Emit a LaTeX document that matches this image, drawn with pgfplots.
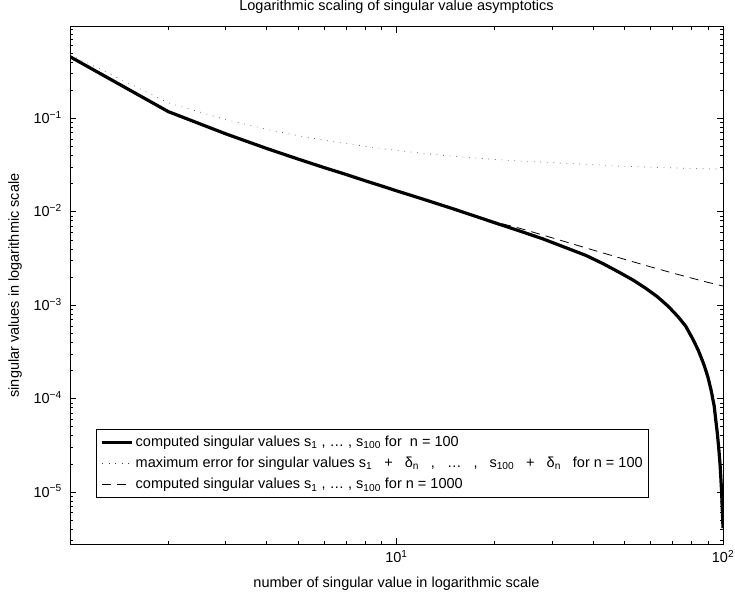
\documentclass[border=0pt]{standalone}
\usepackage{fontspec}
\setmainfont{Liberation Sans}
\usepackage{pgfplots}
\pgfplotsset{compat=1.18}
\newcommand{\gp}{\hspace{12bp}}
\begin{document}
\fontsize{14.5bp}{17bp}\selectfont
\begin{tikzpicture}
\useasboundingbox (-70bp,-63.7bp) rectangle (665bp,544.3bp);
\begin{axis}[
  at={(0,0)}, anchor=south west,
  scale only axis, width=653bp, height=517.6bp,
  xmode=log, ymode=log,
  xmin=1, xmax=100, ymin=2.75e-6, ymax=0.957,
  xtick={10,100},
  xticklabels={10\textsuperscript{1},10\textsuperscript{2}},
  minor xtick={2,3,4,5,6,7,8,9,20,30,40,50,60,70,80,90},
  ytick={1e-5,1e-4,1e-3,1e-2,1e-1},
  yticklabels={10\textsuperscript{−5},10\textsuperscript{−4},10\textsuperscript{−3},10\textsuperscript{−2},10\textsuperscript{−1}},
  minor ytick={3e-6,4e-6,5e-6,6e-6,7e-6,8e-6,9e-6,2e-5,3e-5,4e-5,5e-5,6e-5,7e-5,8e-5,9e-5,2e-4,3e-4,4e-4,5e-4,6e-4,7e-4,8e-4,9e-4,2e-3,3e-3,4e-3,5e-3,6e-3,7e-3,8e-3,9e-3,2e-2,3e-2,4e-2,5e-2,6e-2,7e-2,8e-2,9e-2,0.2,0.3,0.4,0.5,0.6,0.7,0.8,0.9},
  tick align=inside,
  major tick length=6bp, minor tick length=3.5bp,
  every tick/.style={black, line width=0.6bp},
  axis line style={black, line width=0.8bp},
  xticklabel style={anchor=base, yshift=-18bp, inner sep=0pt},
  yticklabel style={anchor=base east, xshift=-8bp, yshift=-5.2bp, inner sep=0pt},
  title={Logarithmic scaling of singular value asymptotics},
  title style={at={(0.5,1)}, anchor=base, yshift=10.7bp, inner sep=0pt},
  xlabel={number of singular value in logarithmic scale},
  xlabel style={at={(axis description cs:0.5,-0.0844)}, anchor=base, inner sep=0pt},
  ylabel={singular values in logarithmic scale},
  ylabel style={at={(axis description cs:-0.0842,0.5)}, anchor=center, inner sep=0pt},
  legend style={at={(0.04,0.0894)}, anchor=south west, draw=black, line width=0.8bp,
    fill=white, inner xsep=4bp, inner ysep=4.5bp, row sep=4.5bp, font=\fontsize{14.5bp}{17bp}\selectfont},
  legend cell align=left,
  legend image code/.code={\draw[#1] (0bp,0bp) -- (14bp,0bp); \path (0bp,0bp) -- (30bp,0bp);},
]
\addplot[black, line width=3.2bp, line join=round] coordinates {
(1,0.457) (2,0.118) (3,0.0682) (4,0.0476) (5,0.0366) (6,0.0297) (7,0.0251) (8,0.0215) (9,0.01888) (10,0.01675) (12,0.01371) (15,0.01067) (20,0.00762) (24,0.00617) (28,0.00514) (34,0.00396) (38,0.00341) (43,0.00277) (48,0.002254) (53,0.001858) (58,0.001514) (63,0.001227) (68,9.70e-4) (73,7.46e-4) (77,5.90e-4) (81,4.27e-4) (84,3.28e-4) (85,2.96e-4) (86,2.67e-4) (87,2.41e-4) (88,2.15e-4) (89,1.90e-4) (90,1.67e-4) (91,1.426e-4) (92,1.216e-4) (93,1.0e-4) (94,8.26e-5) (95,5.93e-5) (96,4.36e-5) (97,2.99e-5) (98,1.91e-5) (99,1.02e-5) (100,4.11e-6)
};
\addlegendentry{computed singular values s\textsubscript{1} , … , s\textsubscript{100} for~ n = 100}
\addplot[black!75, line width=0.6bp, dash pattern=on 0.7bp off 5.8bp] coordinates {
(1,0.4856) (2,0.1466) (3,0.0968) (4,0.0762) (5,0.0652) (6,0.0583) (7,0.0537) (8,0.0501) (9,0.0475) (10,0.04535) (12,0.04231) (15,0.03927) (20,0.03627) (24,0.03485) (30,0.03358) (38,0.03218) (48,0.03088) (61,0.02993) (73,0.02935) (86,0.02888) (100,0.0286)
};
\addlegendentry{maximum error for singular values s\textsubscript{1}\gp+\gp δ\textsubscript{n}\gp,\gp…\gp,\gp s\textsubscript{100}\gp+\gp δ\textsubscript{n}\gp for n = 100}
\addplot[black, line width=0.8bp, dash pattern=on 9bp off 6bp] coordinates {
(1,0.457) (2,0.118) (3,0.0682) (4,0.0476) (5,0.0366) (6,0.0297) (7,0.0251) (8,0.0215) (9,0.01888) (10,0.01675) (12,0.01371) (15,0.01067) (20,0.0078) (24,0.00661) (30,0.00525) (40,0.00389) (50,0.00309) (60,0.00257) (70,0.00221) (80,0.00195) (90,0.00175) (100,0.0016)
};
\addlegendentry{computed singular values s\textsubscript{1} , … , s\textsubscript{100} for n = 1000}
\end{axis}
\end{tikzpicture}
\end{document}
